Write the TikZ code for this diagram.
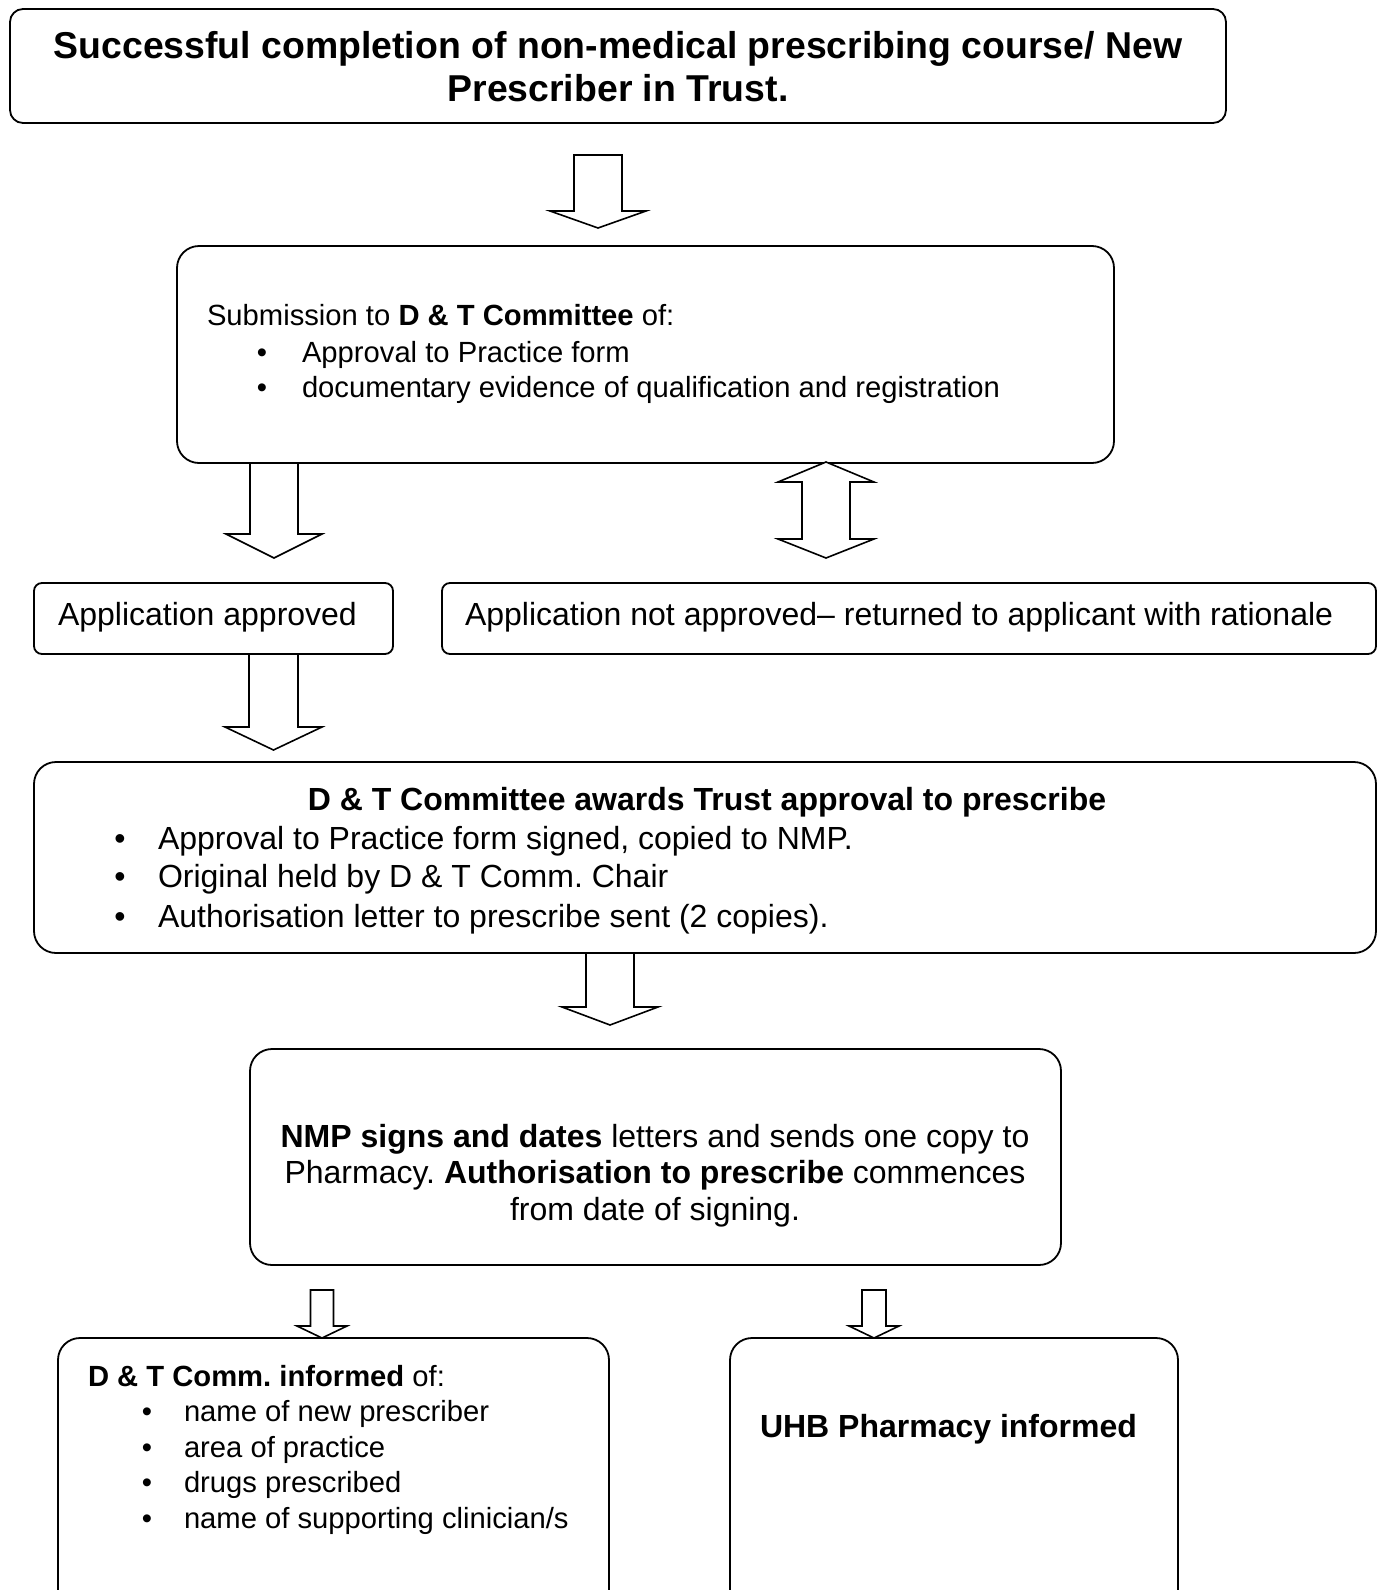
\documentclass[tikz,border=0pt]{standalone}
\usepackage{fontspec}
\setmainfont{Liberation Sans}
\newcommand\bodyf{\fontsize{29.2}{36.5}\selectfont}
\newcommand\largef{\fontsize{32}{38}\selectfont}
\newcommand\titlef{\fontsize{37.4}{43}\selectfont\bfseries}
% block arrow: cx, top, headbase, tip, shaft half, head half
\newcommand\barrow[6]{\draw[arrowshape] ({#1-#5},#2) -- ({#1-#5},#3) -- ({#1-#6},#3) -- (#1,#4) -- ({#1+#6},#3) -- ({#1+#5},#3) -- ({#1+#5},#2) -- cycle;}
\frenchspacing
\begin{document}
\frenchspacing
\begin{tikzpicture}[x=1pt,y=-1pt,
  box/.style={draw=black, line width=1.8pt, fill=white, inner sep=0pt, outer sep=0pt, anchor=north west},
  arrowshape/.style={draw=black, line width=1.6pt, fill=white, line join=miter},
  txt/.style={inner sep=0pt, outer sep=0pt, anchor=base west, font=\bodyf},
  ltxt/.style={inner sep=0pt, outer sep=0pt, anchor=base west, font=\largef},
  bul/.style={inner sep=0pt, outer sep=0pt, anchor=base, font=\bodyf},
  lbul/.style={inner sep=0pt, outer sep=0pt, anchor=base, font=\largef}]
\useasboundingbox (0,0) rectangle (1378,1590);
\clip (0,0) rectangle (1378,1590);
% boxes
\node[box, rounded corners=13pt, minimum width=1216pt, minimum height=114pt] (b1) at (10,9) {};
\node[box, rounded corners=22pt, minimum width=937pt, minimum height=217pt] (b2) at (177,246) {};
\node[box, rounded corners=8pt, minimum width=359pt, minimum height=71pt] (b3) at (34,583) {};
\node[box, rounded corners=8pt, minimum width=934pt, minimum height=71pt] (b4) at (442,583) {};
\node[box, rounded corners=22pt, minimum width=1342pt, minimum height=191pt] (b5) at (34,762) {};
\node[box, rounded corners=22pt, minimum width=811pt, minimum height=216pt] (b6) at (250,1049) {};
\node[box, rounded corners=22pt, minimum width=551pt, minimum height=290pt] (b7) at (58,1338) {};
\node[box, rounded corners=22pt, minimum width=448pt, minimum height=290pt] (b8) at (730,1338) {};
% arrows
\barrow{598}{155}{211}{228}{24}{48}
\barrow{274}{463}{534}{558}{24}{48}
\draw[arrowshape] (802,482) -- (778,482) -- (826,462) -- (874,482) -- (850,482) -- (850,539) -- (874,539) -- (826,558) -- (778,539) -- (802,539) -- cycle;
\barrow{273.5}{654}{727}{750}{24.5}{48.5}
\barrow{610}{953}{1007}{1025}{24}{48}
\barrow{322}{1290}{1326}{1338}{11.5}{25}
\barrow{874}{1290}{1326}{1338}{12}{25}
% title
\node[inner sep=0pt, anchor=base, font=\titlef] (t1) at (618,58) {Successful completion of non-medical prescribing course/ New};
\node[inner sep=0pt, anchor=base, font=\titlef] (t2) at (618,101) {Prescriber in Trust.};
% box 2
\node[txt] (s0) at (207,325) {Submission to \textbf{D \& T Committee} of:};
\node[bul] (s1b) at (262,362) {\textbullet};
\node[txt] (s1) at (302,362) {Approval to Practice form};
\node[bul] (s2b) at (262,397) {\textbullet};
\node[txt] (s2) at (302,397) {documentary evidence of qualification and registration};
% box 3,4
\node[ltxt] (a1) at (58,625) {Application approved};
\node[ltxt] (a2) at (465,625) {Application not approved\textendash{} returned to applicant with rationale};
% box 5
\node[inner sep=0pt, anchor=base, font=\largef\bfseries] (d0) at (707,810) {D \& T Committee awards Trust approval to prescribe};
\node[lbul] (d1b) at (120,849) {\textbullet};
\node[ltxt] (d1) at (158,849) {Approval to Practice form signed, copied to NMP.};
\node[lbul] (d2b) at (120,887) {\textbullet};
\node[ltxt] (d2) at (158,887) {Original held by D \& T Comm. Chair};
\node[lbul] (d3b) at (120,927) {\textbullet};
\node[ltxt] (d3) at (158,927) {Authorisation letter to prescribe sent (2 copies).};
% box 6
\node[inner sep=0pt, anchor=base, font=\largef] (n1) at (655,1147) {\textbf{NMP signs and dates} letters and sends one copy to};
\node[inner sep=0pt, anchor=base, font=\largef] (n2) at (655,1183) {Pharmacy. \textbf{Authorisation to prescribe} commences};
\node[inner sep=0pt, anchor=base, font=\largef] (n3) at (655,1220) {from date of signing.};
% box 7
\node[txt] (c0) at (88,1386) {\textbf{D \& T Comm. informed} of:};
\node[bul] (c1b) at (147,1421) {\textbullet};
\node[txt] (c1) at (184,1421) {name of new prescriber};
\node[bul] (c2b) at (147,1457) {\textbullet};
\node[txt] (c2) at (184,1457) {area of practice};
\node[bul] (c3b) at (147,1492) {\textbullet};
\node[txt] (c3) at (184,1492) {drugs prescribed};
\node[bul] (c4b) at (147,1528) {\textbullet};
\node[txt] (c4) at (184,1528) {name of supporting clinician/s};
% box 8
\node[ltxt, font=\largef\bfseries] (u1) at (760,1437) {UHB Pharmacy informed};
\end{tikzpicture}
\end{document}
